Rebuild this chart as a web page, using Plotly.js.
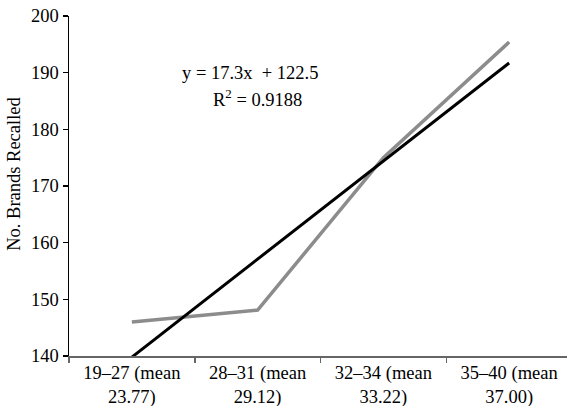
<!DOCTYPE html>
<html>
<head>
<meta charset="utf-8">
<script src="https://cdn.plot.ly/plotly-3.0.1.min.js"></script>
<style>html,body{margin:0;padding:0;background:#fff;}#chart{width:567px;height:406px;}</style>
</head>
<body>
<div id="chart"></div>
<script>
const categories = ["19–27 (mean<br>23.77)", "28–31 (mean<br>29.12)", "32–34 (mean<br>33.22)", "35–40 (mean<br>37.00)"];
const brandsRecalled = [146.0, 148.1, 175.0, 195.4];
const trendValues = [139.8, 157.1, 174.4, 191.7];
const equationText = "y = 17.3x  + 122.5";
const r2Text = "R<sup>2</sup> = 0.9188";
const yTitle = "No. Brands Recalled";
const yTickVals = [140, 150, 160, 170, 180, 190, 200];

const fam = "'Liberation Serif', 'Times New Roman', serif";
const font = {family: fam, size: 18.5, color: "#000"};

const traces = [
  {x: categories, y: brandsRecalled, type: "scatter", mode: "lines",
   line: {color: "#8c8c8c", width: 3.5}, hoverinfo: "skip"},
  {x: categories, y: trendValues, type: "scatter", mode: "lines",
   line: {color: "#000", width: 3}, hoverinfo: "skip"}
];

const layout = {
  width: 567, height: 406,
  margin: {l: 69, r: 0, t: 16, b: 50},
  paper_bgcolor: "#fff", plot_bgcolor: "#fff",
  showlegend: false,
  font: font,
  xaxis: {
    type: "category", range: [-0.5, 3.46],
    showgrid: false, zeroline: false,
    showline: true, linecolor: "#666", linewidth: 1.5,
    ticks: "outside", tickson: "boundaries", ticklen: 5, tickcolor: "#666", tickwidth: 1.5,
    ticklabelstandoff: -1,
    tickfont: font, fixedrange: true
  },
  yaxis: {
    range: [140, 200], tickvals: yTickVals,
    showgrid: false, zeroline: false,
    showline: true, linecolor: "#000", linewidth: 1.5,
    ticks: "outside", ticklen: 5, tickcolor: "#000", tickwidth: 1.5,
    tickfont: font,
    fixedrange: true
  },
  annotations: [
    {xref: "paper", yref: "paper", x: 0.365, y: 0.832, xanchor: "center", yanchor: "middle",
     text: equationText, showarrow: false, font: font},
    {xref: "paper", yref: "paper", x: 0.378, y: 0.759, xanchor: "center", yanchor: "middle",
     text: r2Text, showarrow: false, font: font},
    {xref: "paper", yref: "paper", x: -0.111, y: 0.535, xanchor: "center", yanchor: "middle",
     textangle: -90, text: yTitle, showarrow: false, font: {family: fam, size: 18.5, color: "#000"}}
  ]
};

Plotly.newPlot("chart", traces, layout, {staticPlot: true, displayModeBar: false});
</script>
</body>
</html>
